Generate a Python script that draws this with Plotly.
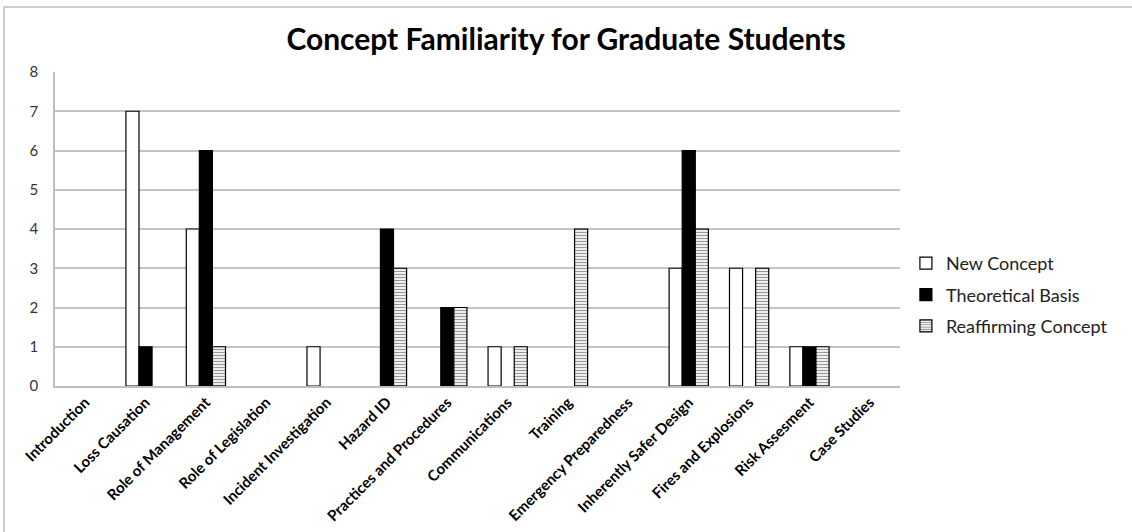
import plotly.graph_objects as go

categories = ["Introduction", "Loss Causation", "Role of Management", "Role of Legislation",
              "Incident Investigation", "Hazard ID", "Practices and Procedures", "Communications",
              "Training", "Emergency Preparedness", "Inherently Safer Design", "Fires and Explosions",
              "Risk Assesment", "Case Studies"]
new_concept = [0, 7, 4, 0, 1, 0, 0, 1, 0, 0, 3, 3, 1, 0]
theoretical_basis = [0, 1, 6, 0, 0, 4, 2, 0, 0, 0, 6, 0, 1, 0]
reaffirming_concept = [0, 0, 1, 0, 0, 3, 2, 1, 4, 0, 4, 3, 1, 0]
y_ticks = [0, 1, 2, 3, 4, 5, 6, 7, 8]

FONT = "Lato"


def nz(vals):
    # zero-height bars are not drawn in the reference
    return [v if v != 0 else None for v in vals]


fig = go.Figure()
fig.add_bar(x=categories, y=nz(new_concept), name="New Concept", legendgroup="a",
            marker=dict(color="white", line=dict(color="black", width=1.2)))
fig.add_bar(x=categories, y=nz(theoretical_basis), name="Theoretical Basis", legendgroup="b",
            marker=dict(color="black", line=dict(color="black", width=1.2)))
fig.add_bar(x=categories, y=nz(reaffirming_concept), name="Reaffirming Concept", legendgroup="c",
            marker=dict(color="white", line=dict(color="black", width=1.2),
                        pattern=dict(shape="-", size=3, solidity=0.45,
                                     fgcolor="#333333", bgcolor="white", fillmode="overlay")))

fig.update_layout(
    width=1132, height=532,
    margin=dict(l=55, r=232, t=72, b=146),
    paper_bgcolor="white", plot_bgcolor="white",
    barmode="group", bargap=0.35, bargroupgap=0,
    title=dict(text="<b>Concept Familiarity for Graduate Students</b>",
               x=0.5, xref="container", y=0.925, yanchor="middle",
               font=dict(family=FONT, size=30, color="black")),
    font=dict(family=FONT, color="black"),
    legend=dict(x=1.007, y=0.29, xanchor="left", yanchor="middle",
                font=dict(family=FONT, size=18, color="#222222"),
                tracegroupgap=5, itemwidth=30, bgcolor="rgba(0,0,0,0)"),
    showlegend=True,
)
fig.update_xaxes(tickangle=-45, tickfont=dict(family=FONT, size=15, color="black", weight="bold"),
                 showgrid=False, showline=True, linecolor="#bfbfbf", linewidth=1.5,
                 ticks="", zeroline=False, automargin=False)
fig.update_yaxes(range=[0, 8], tickvals=y_ticks, showgrid=True, gridcolor="#c4c4c4", gridwidth=1.5,
                 showline=True, linecolor="#bfbfbf", linewidth=1.5, zeroline=False,
                 tickfont=dict(family=FONT, size=15, color="#333333"), ticks="", ticklabelstandoff=12,
                 automargin=False)

fig.add_shape(type="rect", xref="paper", yref="paper",
              x0=(4 - 55) / 845, x1=(1140 - 55) / 845,
              y0=(386 - 540) / 314, y1=(386 - 7) / 314,
              line=dict(color="#bfbfbf", width=1.5), fillcolor="rgba(0,0,0,0)", layer="below")

fig.write_html("out.html")
